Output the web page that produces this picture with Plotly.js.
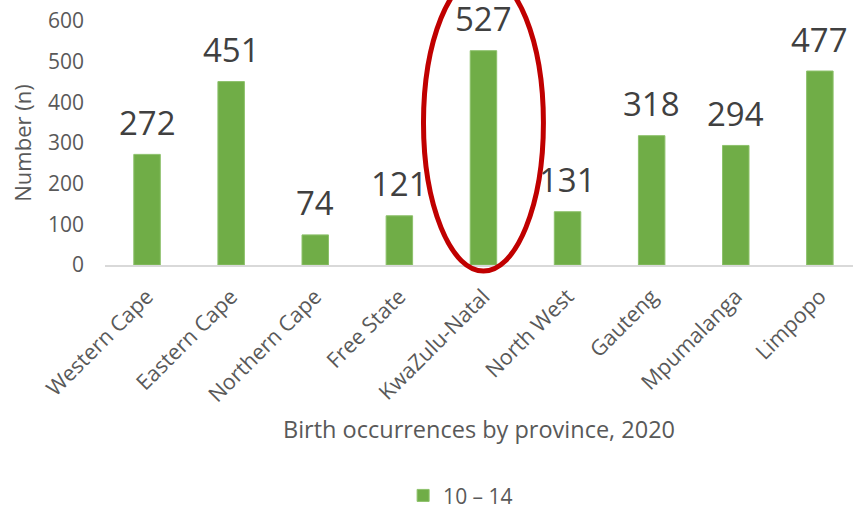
<!DOCTYPE html>
<html>
<head>
<meta charset="utf-8">
<script src="https://cdn.plot.ly/plotly-3.0.1.min.js"></script>
<style>html,body{margin:0;padding:0;background:#fff;}#chart{width:853px;height:509px;}</style>
</head>
<body>
<div id="chart"></div>
<script>
const provinces = ["Western Cape","Eastern Cape","Northern Cape","Free State","KwaZulu-Natal","North West","Gauteng","Mpumalanga","Limpopo"];
const births = [272, 451, 74, 121, 527, 131, 318, 294, 477];
const seriesName = "10 – 14";
const highlighted = "KwaZulu-Natal";
const yTicks = [0, 100, 200, 300, 400, 500, 600];

const FONT = "Open Sans, Liberation Sans, sans-serif";
const hi = provinces.indexOf(highlighted);

const trace = {
  type: "bar",
  x: provinces,
  y: births,
  name: seriesName,
  marker: {color: "#70AD47", line: {color: "#8DC16B", width: 1}},
  showlegend: true,
  hoverinfo: "x+y"
};

const annotations = provinces.map((p, i) => ({
  x: p, y: births[i], xref: "x", yref: "y",
  text: String(births[i]), showarrow: false,
  yanchor: "middle", yshift: 32,
  font: {family: FONT, size: 33, color: "#404040"}
}));

const layout = {
  width: 853, height: 509,
  margin: {l: 105, r: 0, t: 21, b: 244, autoexpand: false},
  paper_bgcolor: "#ffffff", plot_bgcolor: "#ffffff",
  font: {family: FONT, color: "#595959"},
  bargap: 0.685,
  xaxis: {
    type: "category",
    range: [-0.5, 8.394],
    tickangle: -45,
    tickfont: {family: FONT, size: 21.5, color: "#595959"},
    ticklabelstandoff: 9,
    showline: true, linecolor: "#D9D9D9", linewidth: 1.5,
    ticks: "", showgrid: false, zeroline: false,
    title: {text: "Birth occurrences by province, 2020", font: {family: FONT, size: 23.5, color: "#595959"}, standoff: 14},
    automargin: false
  },
  yaxis: {
    range: [0, 600],
    tickvals: yTicks,
    tickfont: {family: FONT, size: 21, color: "#595959"},
    showgrid: false, zeroline: false, showline: false, ticks: "",
    ticklabelstandoff: 20,
    title: {text: "Number (n)", font: {family: FONT, size: 22, color: "#595959"}, standoff: 10},
    automargin: false
  },
  legend: {
    orientation: "h", xref: "container", yref: "container",
    x: 0.54, xanchor: "center", y: 0.026, yanchor: "middle",
    itemwidth: 30,
    font: {family: FONT, size: 21, color: "#595959"}, bgcolor: "rgba(0,0,0,0)"
  },
  annotations: annotations,
  shapes: [{
    type: "circle", xref: "x", yref: "paper",
    x0: hi - 0.713, x1: hi + 0.713,
    y0: -0.025, y1: 1.19,
    line: {color: "#C00000", width: 5},
    layer: "above"
  }]
};

Plotly.newPlot("chart", [trace], layout, {displayModeBar: false, staticPlot: true});
</script>
</body>
</html>
